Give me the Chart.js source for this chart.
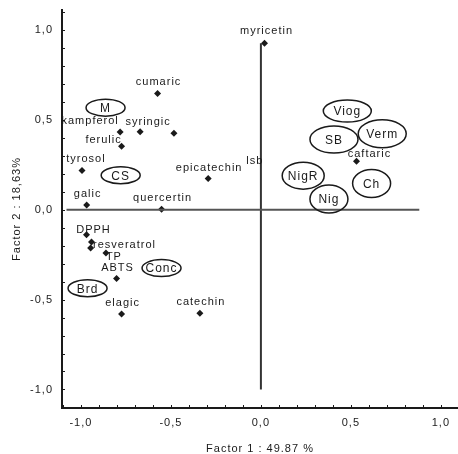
<!DOCTYPE html>
<html>
<head>
<meta charset="utf-8">
<script src="https://cdn.jsdelivr.net/npm/chart.js@4/dist/chart.umd.min.js"></script>
<style>
  html, body { margin: 0; padding: 0; background: #fff; }
  #wrap { width: 458px; height: 454px; }
</style>
</head>
<body>
<div id="wrap"><canvas id="pcaChart" width="458" height="454"></canvas></div>
<script>
// =====================================================
// DATA
// =====================================================
// variables: loadings on factor 1 / factor 2 ('' = unlabelled point)
const varNames = ['myricetin', 'cumaric', 'kampferol', 'syringic', '', 'ferulic', 'tyrosol',
    'epicatechin', 'lsb', 'galic', 'quercertin', 'DPPH', 'resveratrol', '', 'TP', 'ABTS',
    'elagic', 'catechin', 'caftaric'];
const varX = [0.02, -0.574, -0.782, -0.671, -0.483, -0.774, -0.994,
    -0.293, 0.0, -0.968, -0.552, -0.969, -0.941, -0.946, -0.861, -0.802,
    -0.774, -0.339, 0.531];
const varY = [0.925, 0.646, 0.431, 0.433, 0.425, 0.353, 0.217,
    0.173, 0.206, 0.026, 0.002, -0.139, -0.180, -0.214, -0.241, -0.383,
    -0.581, -0.576, 0.269];

// sample groups, drawn as circled labels
const groupNames = ['M', 'CS', 'Conc', 'Brd', 'Viog', 'SB', 'Verm', 'NigR', 'Nig', 'Ch'];
const groupX = [-0.863, -0.779, -0.552, -0.963, 0.480, 0.406, 0.674, 0.235, 0.378, 0.615];
const groupY = [0.567, 0.191, -0.325, -0.437, 0.548, 0.390, 0.422, 0.189, 0.059, 0.145];

// the two cross lines through the origin
const hLineX = [-1.08, 0.88];
const vLineY = [0.925, -1.0];

// axes
const tickValues = [-1.0, -0.5, 0.0, 0.5, 1.0];
const tickLabels = ['-1,0', '-0,5', '0,0', '0,5', '1,0'];
const xTitle = 'Factor 1 : 49.87 %';
const yTitle = 'Factor 2 : 18,63%';

// =====================================================
// STYLE
// =====================================================
const FONT = 'Liberation Sans, Arial, sans-serif';
const INK = '#1a1a1a';

// label offset from its point in px, default is centred above
const labelOffset = {
    myricetin: [2, -12], kampferol: [-30, -11], syringic: [8, -10], ferulic: [-18, -6],
    tyrosol: [4, -12], DPPH: [7, -5], resveratrol: [33, 3], TP: [8, 4], caftaric: [13, -7],
    lsb: [-6, -12]
};
// ellipse half-width / half-height in px
const ellipseSize = {
    M: [19.5, 8.5], CS: [19.5, 8.5], Conc: [19.5, 8.5], Brd: [19.5, 8.5],
    Viog: [24, 11], SB: [24, 13.5], Verm: [24, 14], NigR: [21, 13.5], Nig: [19, 14], Ch: [19, 14]
};

// minor ticks every 0.1
const minorTicks = [];
for (let i = -11; i <= 11; i++) minorTicks.push(i / 10);

function tickLabel(v) {
    const i = tickValues.findIndex(t => Math.abs(t - v) < 1e-6);
    return i >= 0 ? tickLabels[i] : '';
}

function setTicks(scale) {
    scale.ticks = minorTicks
        .filter(v => v >= scale.min - 1e-9 && v <= scale.max + 1e-9)
        .map(v => ({ value: v }));
}

// no extra room for end labels, the plot box is fixed
function noPadding(scale) {
    scale.paddingLeft = 0;
    scale.paddingRight = 0;
    scale.paddingTop = 0;
    scale.paddingBottom = 0;
}

const spacingPlugin = {
    id: 'spacing',
    beforeDraw(chart) {
        chart.ctx.letterSpacing = '1px';
    }
};

const innerTicksPlugin = {
    id: 'innerTicks',
    afterDraw(chart) {
        const { ctx, chartArea, scales: { x, y } } = chart;
        ctx.save();
        ctx.strokeStyle = INK;
        ctx.lineWidth = 1;
        x.ticks.forEach(t => {
            const px = Math.round(x.getPixelForValue(t.value)) + 0.5;
            ctx.beginPath();
            ctx.moveTo(px, chartArea.bottom);
            ctx.lineTo(px, chartArea.bottom - 3);
            ctx.stroke();
        });
        y.ticks.forEach(t => {
            const py = Math.round(y.getPixelForValue(t.value)) + 0.5;
            ctx.beginPath();
            ctx.moveTo(chartArea.left, py);
            ctx.lineTo(chartArea.left + 3, py);
            ctx.stroke();
        });
        ctx.restore();
    }
};

const labelsPlugin = {
    id: 'pointLabels',
    afterDatasetsDraw(chart) {
        const ctx = chart.ctx;
        ctx.save();
        ctx.fillStyle = INK;
        ctx.textAlign = 'center';
        ctx.textBaseline = 'middle';

        // variable names
        ctx.font = '11px ' + FONT;
        chart.getDatasetMeta(2).data.forEach((pt, i) => {
            const name = varNames[i];
            if (!name) return;
            const off = labelOffset[name] || [1, -11];
            ctx.fillText(name, pt.x + off[0], pt.y + off[1]);
        });

        // group ellipses
        ctx.font = '12px ' + FONT;
        ctx.strokeStyle = INK;
        ctx.lineWidth = 1.5;
        chart.getDatasetMeta(3).data.forEach((pt, i) => {
            const name = groupNames[i];
            const [rx, ry] = ellipseSize[name];
            ctx.beginPath();
            ctx.ellipse(pt.x, pt.y, rx, ry, 0, 0, Math.PI * 2);
            ctx.stroke();
            ctx.fillText(name, pt.x, pt.y + 1);
        });
        ctx.restore();
    }
};

const axisFont = { family: FONT, size: 11 };

new Chart(document.getElementById('pcaChart').getContext('2d'), {
    type: 'scatter',
    data: {
        datasets: [
            {
                label: 'h0',
                data: hLineX.map(x => ({ x, y: 0 })),
                showLine: true,
                borderColor: '#555',
                borderWidth: 2,
                pointRadius: 0
            },
            {
                label: 'v0',
                data: vLineY.map(y => ({ x: 0, y })),
                showLine: true,
                borderColor: '#333',
                borderWidth: 2,
                pointRadius: 0
            },
            {
                label: 'variables',
                data: varNames.map((n, i) => ({ x: varX[i], y: varY[i] })),
                pointStyle: 'rectRot',
                pointRadius: c => varNames[c.dataIndex] === 'lsb' ? 0 : 3.5,
                backgroundColor: INK,
                borderColor: INK,
                borderWidth: 0
            },
            {
                label: 'groups',
                data: groupNames.map((n, i) => ({ x: groupX[i], y: groupY[i] })),
                pointRadius: 0
            }
        ]
    },
    options: {
        responsive: false,
        animation: false,
        layout: { autoPadding: false, padding: { top: 10, right: 0, left: 0, bottom: 0 } },
        plugins: { legend: { display: false }, tooltip: { enabled: false } },
        scales: {
            x: {
                type: 'linear',
                min: -1.105,
                max: 1.095,
                afterBuildTicks: setTicks,
                afterFit: s => { s.height = 46; noPadding(s); },
                grid: { drawOnChartArea: false, drawTicks: false },
                border: { color: INK, width: 2 },
                ticks: { autoSkip: false, maxRotation: 0, padding: 8, color: INK, font: axisFont, callback: tickLabel },
                title: { display: true, text: xTitle, color: INK, font: axisFont, padding: { top: 0, bottom: -2 } }
            },
            y: {
                type: 'linear',
                min: -1.103,
                max: 1.11,
                afterBuildTicks: setTicks,
                afterFit: s => { s.width = 62; noPadding(s); },
                grid: { drawOnChartArea: false, drawTicks: false },
                border: { color: INK, width: 2 },
                ticks: { autoSkip: false, padding: 9, color: INK, font: axisFont, callback: tickLabel },
                title: { display: true, text: yTitle, color: INK, font: axisFont, padding: { top: 10, bottom: 0 } }
            }
        }
    },
    plugins: [spacingPlugin, innerTicksPlugin, labelsPlugin]
});
</script>
</body>
</html>
